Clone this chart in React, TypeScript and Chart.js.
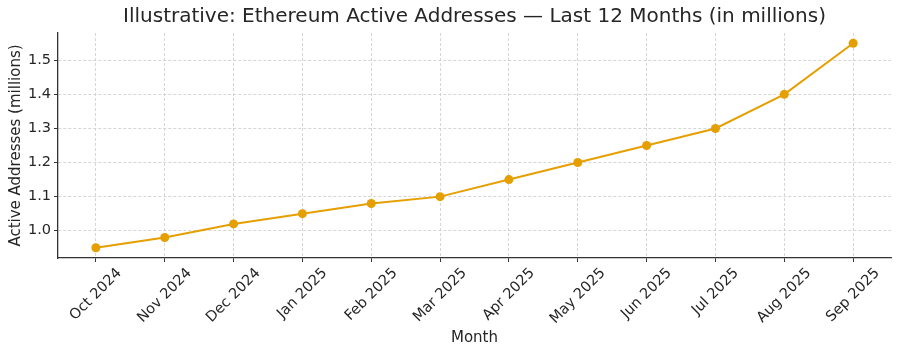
import React, { useEffect, useRef } from "react";
import { Chart, registerables } from "chart.js";

Chart.register(...registerables);

const months = [
  "Oct 2024", "Nov 2024", "Dec 2024", "Jan 2025", "Feb 2025", "Mar 2025",
  "Apr 2025", "May 2025", "Jun 2025", "Jul 2025", "Aug 2025", "Sep 2025",
];
const activeAddresses = [0.95, 0.98, 1.02, 1.05, 1.08, 1.10, 1.15, 1.20, 1.25, 1.30, 1.40, 1.55];
const yTickValues = [1.0, 1.1, 1.2, 1.3, 1.4, 1.5];

const FONT = "'DejaVu Sans', sans-serif";
const TEXT = "#262626";
const TICK_SIZE = 14.5;

export default function App() {
  const ref = useRef<HTMLCanvasElement | null>(null);

  useEffect(() => {
    document.body.style.margin = "0";
    const canvas = ref.current;
    if (!canvas) return;

    const mplText = {
      id: "mplText",
      afterDraw(chart: any) {
        const { ctx } = chart;
        const ca = chart.chartArea;
        ctx.save();
        ctx.font = `20px ${FONT}`;
        ctx.fillStyle = TEXT;
        ctx.textAlign = "center";
        ctx.textBaseline = "middle";
        ctx.fillText(
          "Illustrative: Ethereum Active Addresses — Last 12 Months (in millions)",
          (ca.left + ca.right) / 2,
          17
        );
        // rotated x tick labels, centered under ticks (matplotlib style)
        const xs = chart.scales.x;
        ctx.font = `${TICK_SIZE}px ${FONT}`;
        const h = TICK_SIZE * 1.15;
        const c = Math.SQRT1_2;
        months.forEach((label, i) => {
          const w = ctx.measureText(label).width;
          const bb = (w + h) * c;
          const x = xs.getPixelForValue(i);
          const top = ca.bottom + 7;
          ctx.save();
          ctx.translate(x, top + bb / 2);
          ctx.rotate(-Math.PI / 4);
          ctx.textAlign = "center";
          ctx.textBaseline = "middle";
          ctx.fillText(label, 0, 0);
          ctx.restore();
        });
        ctx.restore();
      },
    };

    const chart = new Chart(canvas, {
      type: "line",
      data: {
        datasets: [
          {
            data: activeAddresses.map((v, i) => ({ x: i, y: v })),
            borderColor: "#E69F00",
            backgroundColor: "#E69F00",
            borderWidth: 2,
            pointRadius: 4.5,
            pointHoverRadius: 4.5,
            pointBorderWidth: 0,
            tension: 0,
            fill: false,
          },
        ],
      },
      options: {
        animation: false,
        responsive: false,
        maintainAspectRatio: false,
        layout: { padding: { top: 33, right: 9, left: 0, bottom: 0 } },
        plugins: {
          legend: { display: false },
          tooltip: { enabled: false },
          title: { display: false },
        },
        scales: {
          x: {
            type: "linear",
            min: -0.55,
            max: 11.55,
            afterBuildTicks: (scale: any) => {
              scale.ticks = months.map((_, i) => ({ value: i }));
            },
            afterFit: (scale: any) => {
              scale.height = 97;
            },
            ticks: {
              display: false,
              autoSkip: false,
            },
            grid: {
              color: "#cccccc",
              lineWidth: 0.8,
              drawTicks: true,
              tickLength: 4,
              tickColor: "#333",
              tickWidth: 1,
              tickBorderDash: [],
            },
            border: { display: true, color: "#333", width: 1.3, dash: [3, 2] },
            title: {
              display: true,
              text: "Month",
              color: TEXT,
              font: { family: FONT, size: 15 },
              padding: { top: 0, bottom: 8 },
            },
          },
          y: {
            type: "linear",
            min: 0.92,
            max: 1.58,
            afterBuildTicks: (scale: any) => {
              scale.ticks = yTickValues.map((v) => ({ value: v }));
            },
            afterFit: (scale: any) => {
              scale.width = 58;
            },
            ticks: {
              color: TEXT,
              font: { family: FONT, size: TICK_SIZE },
              padding: 3,
              callback: (v: any) => Number(v).toFixed(1),
            },
            grid: {
              color: "#cccccc",
              lineWidth: 0.8,
              drawTicks: true,
              tickLength: 4,
              tickColor: "#333",
              tickWidth: 1,
              tickBorderDash: [],
            },
            border: { display: true, color: "#333", width: 1.3, dash: [3, 2] },
            title: {
              display: true,
              text: "Active Addresses (millions)",
              color: TEXT,
              font: { family: FONT, size: 15 },
              padding: { top: 7, bottom: 0 },
            },
          },
        },
      },
      plugins: [mplText],
    });

    return () => chart.destroy();
  }, []);

  return (
    <div style={{ position: "absolute", left: 0, top: 0, width: 900, height: 355, background: "#fff" }}>
      <canvas ref={ref} width={900} height={355} style={{ width: 900, height: 355, display: "block" }} />
    </div>
  );
}
